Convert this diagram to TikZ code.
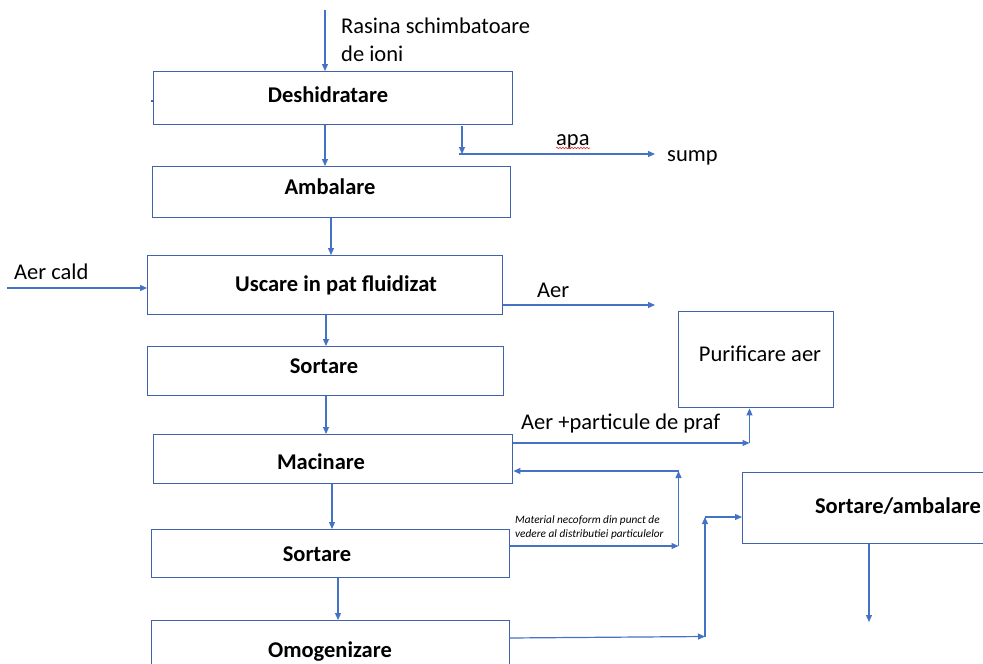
\documentclass[tikz,border=0pt]{standalone}
\usepackage{fontspec}
\setmainfont{Carlito}
\usetikzlibrary{arrows.meta,decorations.pathmorphing}
\definecolor{lineblue}{HTML}{4472C4}
\definecolor{boxblue}{HTML}{4163AD}
\definecolor{spellred}{HTML}{E03030}
\begin{document}
\begin{tikzpicture}[x=1pt,y=-1pt,
  box/.style={draw=boxblue, line width=1.4pt, inner sep=0pt, anchor=north west},
  lbl/.style={inner sep=0pt, anchor=base west, font=\fontsize{22.5}{27}\selectfont},
  btxt/.style={inner sep=0pt, anchor=base, font=\fontsize{22.5}{27}\selectfont\bfseries},
  ntxt/.style={inner sep=0pt, anchor=base, font=\fontsize{22.5}{27}\selectfont},
  small/.style={inner sep=0pt, anchor=base west, font=\fontsize{11.3}{14}\selectfont\itshape, align=left},
  arr/.style={draw=lineblue, line width=1.2pt, -{Triangle[length=7pt,width=6pt]}},
  ln/.style={draw=lineblue, line width=1.2pt}]
\useasboundingbox (0,0) rectangle (983,664);
% boxes
\node[box, minimum width=359pt, minimum height=53pt] (d) at (153,71) {};
\node[box, minimum width=358pt, minimum height=51pt] (a) at (152,166) {};
\node[box, minimum width=355pt, minimum height=59pt] (u) at (147,255) {};
\node[box, minimum width=356pt, minimum height=49pt] (s1) at (147,346) {};
\node[box, minimum width=359pt, minimum height=49pt] (m) at (153,434) {};
\node[box, minimum width=358pt, minimum height=48pt] (s2) at (151,529) {};
\node[box, minimum width=358pt, minimum height=62pt] (o) at (151,620) {};
\node[box, minimum width=155pt, minimum height=96pt] (p) at (678,311) {};
\node[box, minimum width=312pt, minimum height=71pt] (sa) at (742,472) {};
% box texts
\node[btxt] (td) at (328,102) {Deshidratare};
\node[btxt] (ta) at (330,194) {Ambalare};
\node[btxt] (tu) at (336,291) {Uscare in pat fluidizat};
\node[btxt] (ts1) at (324,373) {Sortare};
\node[btxt] (tm) at (321,469) {Macinare};
\node[btxt] (ts2) at (317,561) {Sortare};
\node[btxt] (to) at (330,657) {Omogenizare};
\node[ntxt] (tp) at (760,361) {Purificare aer};
\node[btxt] (tsa) at (898,513.5) {Sortare/ambalare};
% labels
\node[lbl] (lr1) at (341,33) {Rasina schimbatoare};
\node[lbl] (lr2) at (341,61) {de ioni};
\node[lbl] (lapa) at (556,145) {apa};
\node[lbl] (lsump) at (667,161) {sump};
\node[lbl] (lcald) at (14,279) {Aer cald};
\node[lbl] (laer) at (537,297) {Aer};
\node[lbl] (lpraf) at (521,429) {Aer +particule de praf};
\node[small] (lmat1) at (515,523) {Material necoform din punct de};
\node[small] (lmat2) at (515,537) {vedere al distributiei particulelor};
\draw[spellred, line width=0.6pt, decorate, decoration={snake, amplitude=0.8pt, segment length=3pt}] ([yshift=-3pt]lapa.base west) -- ([yshift=-3pt]lapa.base east);
% coordinates
\coordinate (rtop) at (325,10);
\coordinate (c2) at (331,0);
\coordinate (c3) at (326,0);
\coordinate (c5) at (332,0);
\coordinate (c6) at (338,0);
\coordinate (apa1) at (462,126);
\coordinate (apa2) at (462,154);
\coordinate (apa0) at (459,154);
\coordinate (sumpend) at (655,154);
\coordinate (cald0) at (7,288);
\coordinate (aerend) at (655,305);
\coordinate (praf1) at (749.5,443);
\coordinate (rec1) at (678.5,546);
\coordinate (rec2) at (678.5,471);
\coordinate (om0) at (509,638);
\coordinate (om1) at (705,636.5);
\coordinate (om2) at (705,517);
\coordinate (saend) at (869,622);
\coordinate (tick) at (153,101);
% connectors
\draw[boxblue, line width=1.2pt] (tick) -- ++(-2,0);
\draw[arr] (rtop) -- (rtop |- d.north);
\draw[arr] (d.south -| rtop) -- (a.north -| rtop);
\draw[arr] (apa1) -- (apa2);
\draw[arr] (apa0) -- (sumpend);
\draw[arr] (a.south -| c2) -- (u.north -| c2);
\draw[arr] (cald0) -- (cald0 -| u.west);
\draw[arr] (u.east |- aerend) -- (aerend);
\draw[arr] (u.south -| c3) -- (s1.north -| c3);
\draw[arr] (s1.south -| c3) -- (m.north -| c3);
\draw[arr] (m.east |- praf1) -- (praf1);
\draw[arr] (praf1) -- (praf1 |- p.south);
\draw[arr] (m.south -| c5) -- (s2.north -| c5);
\draw[arr] (s2.east |- rec1) -- (rec1);
\draw[arr] (rec1) -- (rec2);
\draw[arr] (rec2) -- (rec2 -| m.east);
\draw[arr] (s2.south -| c6) -- (o.north -| c6);
\draw[arr] (om0) -- (om1);
\draw[arr] (om1) -- (om2);
\draw[arr] (om2) -- (om2 -| sa.west);
\draw[arr] (sa.south -| saend) -- (saend);
\end{tikzpicture}
\end{document}
